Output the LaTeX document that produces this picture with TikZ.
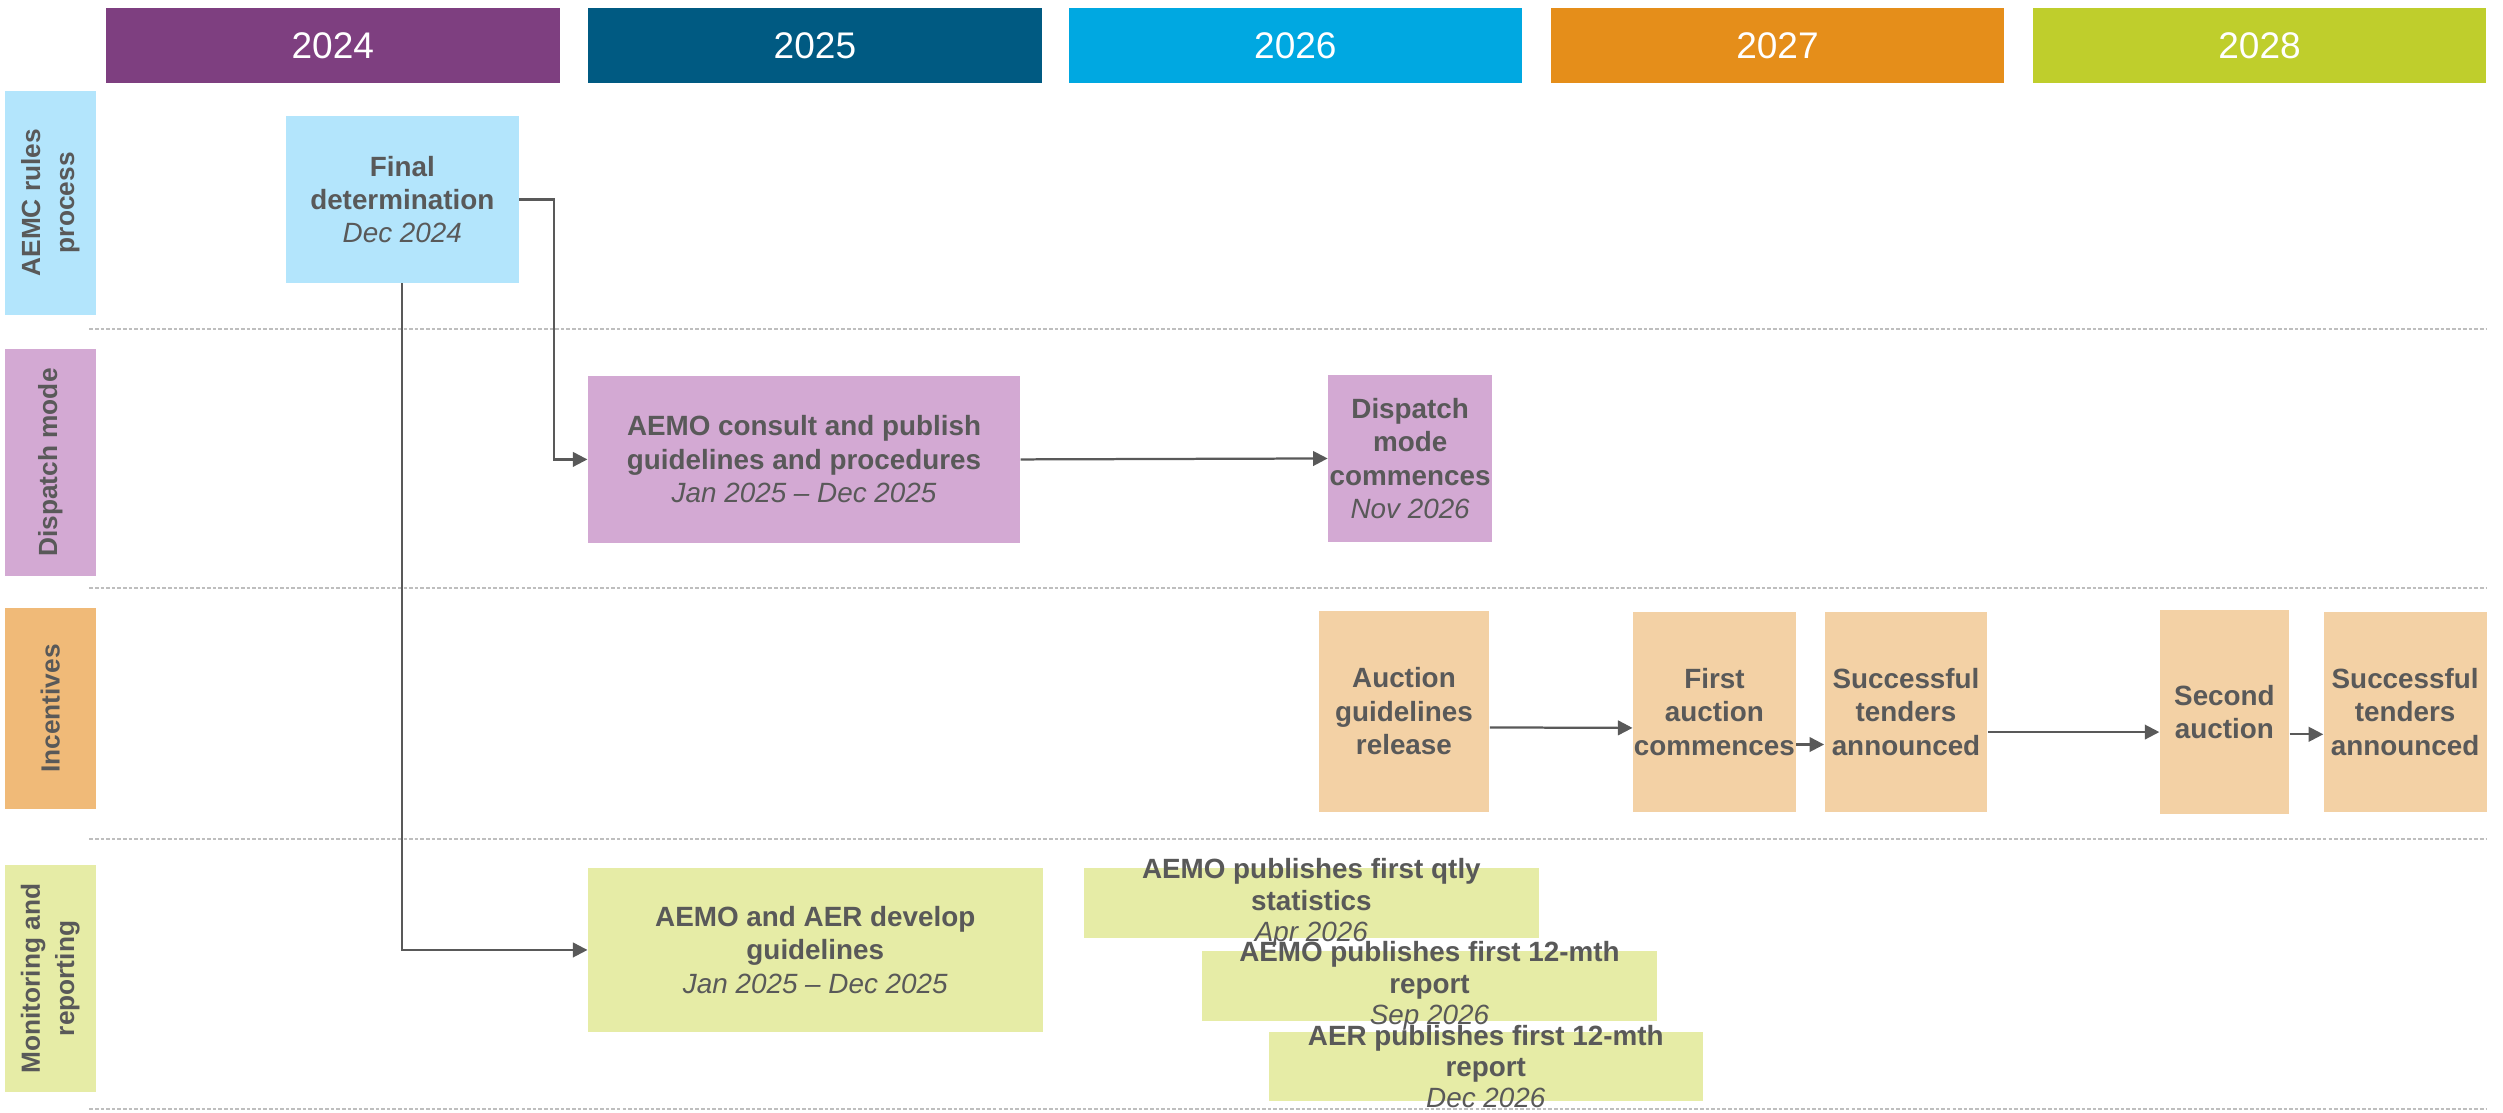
\documentclass[tikz,border=0pt]{standalone}
\usepackage{fontspec}
\setmainfont{Liberation Sans}
\usetikzlibrary{positioning,arrows.meta}
\definecolor{yrA}{RGB}{126,63,128}
\definecolor{yrB}{RGB}{0,90,130}
\definecolor{yrC}{RGB}{0,168,225}
\definecolor{yrD}{RGB}{229,142,26}
\definecolor{yrE}{RGB}{191,206,44}
\definecolor{aemcfill}{RGB}{179,229,252}
\definecolor{dispfill}{RGB}{211,169,211}
\definecolor{inclabel}{RGB}{240,186,120}
\definecolor{incfill}{RGB}{243,209,165}
\definecolor{monfill}{RGB}{230,236,166}
\definecolor{textgray}{RGB}{89,89,89}
\definecolor{sepgray}{RGB}{190,190,190}
\newcommand{\boxdate}[1]{{\mdseries\itshape #1}}
\tikzset{
  flowarrow/.style={-{Triangle[length=6.5pt,width=6.5pt]}, line width=1pt, draw=textgray},
  yearbox/.style={minimum width=7.1cm, minimum height=1.175cm, inner sep=0pt, text=white, font=\fontsize{16.5}{19}\selectfont},
  lanelabel/.style={rotate=90, minimum height=1.425cm, inner sep=0pt, align=center, text=textgray, font=\bfseries\fontsize{11.7}{15.2}\selectfont},
  stepbox/.style={inner sep=0pt, align=center, text=textgray, font=\bfseries\fontsize{12.4}{14.9}\selectfont},
  aemcbox/.style={stepbox, fill=aemcfill},
  dispbox/.style={stepbox, fill=dispfill},
  incbox/.style={stepbox, fill=incfill, minimum width=2.55cm, minimum height=3.13cm},
  monbox/.style={stepbox, fill=monfill},
  montext/.style={stepbox, font=\bfseries\fontsize{12.4}{14}\selectfont},
  lanesep/.style={draw=sepgray, line width=0.9pt, dash pattern=on 1.6pt off 0.9pt}
}
\begin{document}
\begin{tikzpicture}[x=0.025cm, y=-0.025cm]
  \useasboundingbox (0,0) rectangle (1568,697);
  % years
  \node[yearbox, fill=yrA] (y24) at (208.5,28.5) {2024};
  \node[yearbox, fill=yrB] (y25) at (510.5,28.5) {2025};
  \node[yearbox, fill=yrC] (y26) at (811.5,28.5) {2026};
  \node[yearbox, fill=yrD] (y27) at (1113.5,28.5) {2027};
  \node[yearbox, fill=yrE] (y28) at (1415.5,28.5) {2028};
  % lanes
  \node[lanelabel, fill=aemcfill, minimum width=3.5cm] (laneaemc) at (31.5,127) {AEMC rules\\process};
  \node[lanelabel, fill=dispfill, minimum width=3.54cm] (lanedisp) at (31.5,289.7) {Dispatch mode};
  \node[lanelabel, fill=inclabel, minimum width=3.16cm] (laneinc) at (31.5,443.8) {Incentives};
  \node[lanelabel, fill=monfill, minimum width=3.55cm] (lanemon) at (31.5,613) {Monitoring and\\reporting};
  \draw[lanesep] (56,206) -- (1558,206);
  \draw[lanesep] (56,368.5) -- (1558,368.5);
  \draw[lanesep] (56,525.8) -- (1558,525.8);
  \draw[lanesep] (56,695) -- (1558,695);
  % AEMC rules process
  \node[aemcbox, minimum width=3.65cm, minimum height=2.61cm] (fd) at (252,125) {Final\\determination\\\boxdate{Dec 2024}};
  % dispatch mode
  \node[dispbox, minimum width=6.77cm, minimum height=2.61cm] (consult) at (503.7,287.8) {AEMO consult and publish\\guidelines and procedures\\\boxdate{Jan 2025 – Dec 2025}};
  \node[dispbox, minimum width=2.57cm, minimum height=2.61cm] (dmc) at (883.4,287.2) {Dispatch\\mode\\commences\\\boxdate{Nov 2026}};
  % incentives
  \node[incbox, minimum width=2.675cm, minimum height=3.145cm] (agr) at (879.5,445.7) {Auction\\guidelines\\release};
  \node[incbox] (fac) at (1074,446) {First\\auction\\commences};
  \node[incbox] (sta1) at (1194,446) {Successful\\tenders\\announced};
  \node[incbox, minimum width=2.025cm, minimum height=3.19cm] (sec) at (1393.5,446) {Second\\auction};
  \node[incbox] (sta2) at (1506.7,446) {Successful\\tenders\\announced};
  % monitoring and reporting
  \node[monbox, minimum width=7.12cm, minimum height=2.565cm] (dev) at (510.75,595.1) {AEMO and AER develop\\guidelines\\\boxdate{Jan 2025 – Dec 2025}};
  \node[monbox, minimum width=7.125cm, minimum height=1.0925cm] (qtly) at (821.5,565.65) {};
  \node[montext] (qtlytxt) at (qtly) {AEMO publishes first qtly\\statistics\\\boxdate{Apr 2026}};
  \node[monbox, minimum width=7.125cm, minimum height=1.09cm] (aemo12) at (895.5,617.7) {};
  \node[montext] (aemo12txt) at (aemo12) {AEMO publishes first 12-mth\\report\\\boxdate{Sep 2026}};
  \node[monbox, minimum width=6.8cm, minimum height=1.075cm] (aer12) at (930.75,668.1) {};
  \node[montext] (aer12txt) at (aer12) {AER publishes first 12-mth\\report\\\boxdate{Dec 2026}};
  % connectors
  \draw[flowarrow] (fd.east) -- ++(21.8,0) |- (consult.west);
  \draw[flowarrow] (fd.south) |- (dev.west);
  \draw[flowarrow] (consult.east) -- (dmc.west);
  \draw[flowarrow] ([yshift=-0.25cm]agr.east) -- ([yshift=-0.25cm]fac.west);
  \draw[flowarrow] ([yshift=-0.51cm]fac.east) -- ([yshift=-0.51cm]sta1.west);
  \draw[flowarrow] ([yshift=-0.315cm]sta1.east) -- ([yshift=-0.315cm]sec.west);
  \draw[flowarrow] ([yshift=-0.35cm]sec.east) -- ([yshift=-0.35cm]sta2.west);
\end{tikzpicture}
\end{document}
